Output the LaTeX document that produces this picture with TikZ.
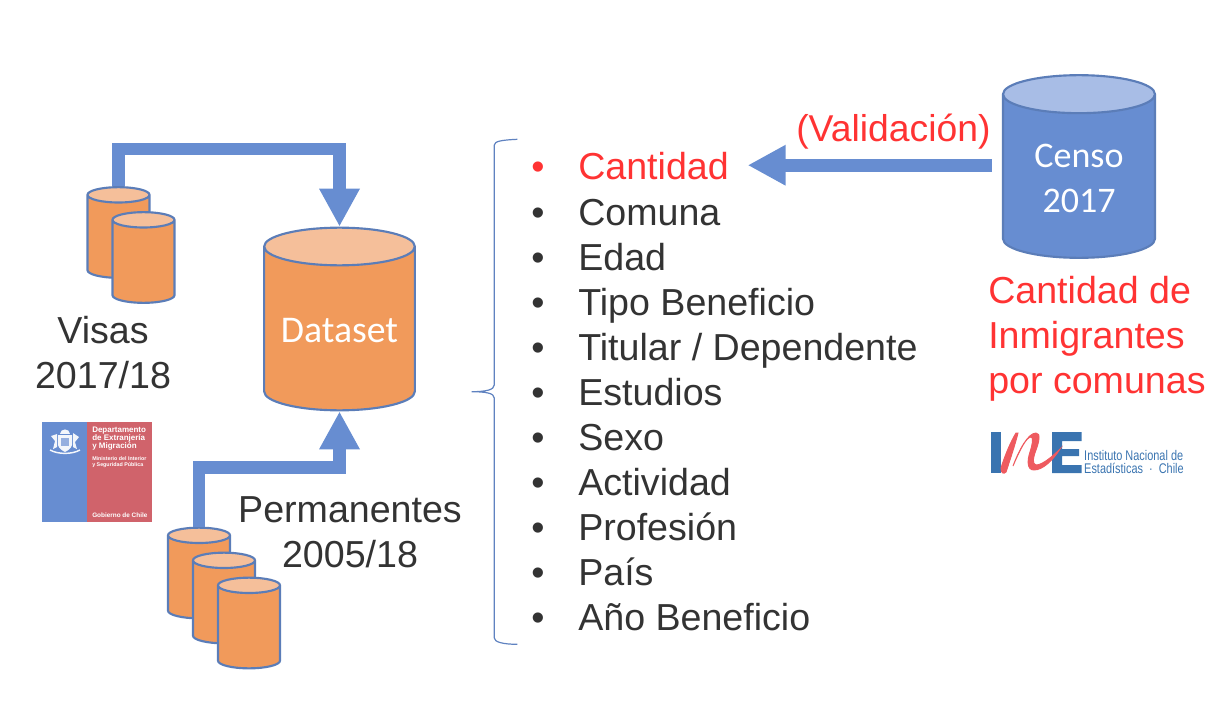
\documentclass[tikz,border=0pt]{standalone}
\usepackage{fontspec}
\setmainfont{Liberation Sans}
\newfontfamily\calibrina{Carlito}
\usetikzlibrary{shapes.geometric,arrows.meta}
\definecolor{naranjo}{HTML}{F19A5B}
\definecolor{naranjoclaro}{HTML}{F5BF9A}
\definecolor{azul}{HTML}{678DD1}
\definecolor{azulclaro}{HTML}{A8BDE6}
\definecolor{borde}{HTML}{5B7DB8}
\definecolor{texto}{HTML}{333333}
\definecolor{rojo}{HTML}{FF3333}
\definecolor{azulin}{HTML}{3A74B0}
\definecolor{rojoine}{HTML}{EE5A5F}
\definecolor{rojologo}{HTML}{D0636B}
\tikzset{
	barril/.style={cylinder, shape border rotate=90, shape aspect=0.25, anchor=shape center, draw=borde, line width=1.6pt, inner sep=0pt, cylinder uses custom fill},
	naranja/.style={cylinder body fill=naranjo, cylinder end fill=naranjoclaro},
	chico/.style={barril, naranja, text width=46pt, minimum width=46.5pt, minimum height=68pt},
	flecha/.style={draw=azul, line width=9.5pt, -{Triangle[width=28.5pt,length=28.5pt]}},
	item/.style={anchor=base west, font=\fontsize{28.2}{34}\selectfont, text=texto, inner sep=0pt},
	titulo/.style={font=\fontsize{28.2}{33.75}\selectfont, text=texto, align=center, inner sep=0pt}
}
\begin{document}
\begin{tikzpicture}[x=0.75pt,y=-0.75pt]
\useasboundingbox (0,0) rectangle (1227,706);
\node[chico] (visa1) at (118.5,232.5) {};
\node[chico] (visa2) at (143.5,257.5) {};
\node[chico] (perm1) at (199,573) {};
\node[chico] (perm2) at (224,598) {};
\node[chico] (perm3) at (249,623) {};
\node[barril, naranja, text width=113pt, minimum width=113pt, minimum height=137pt, text=white, align=center, font=\calibrina\fontsize{28.3}{33}\selectfont] (dataset) at (339.5,319) {\rule{0pt}{21pt}Dataset};
\node[barril, cylinder body fill=azul, cylinder end fill=azulclaro, text width=114pt, minimum width=114pt, minimum height=137pt, text=white, align=center, font=\calibrina\fontsize{27}{33.75}\selectfont] (censo) at (1079,166.5) {\rule{0pt}{20pt}Censo\\2017};
\draw[flecha] (visa1.north) -- ++(0,-37) -| (dataset.north);
\draw[flecha] (perm1.north) -- ++(0,-59) -| (dataset.south);
% lista de variables
\node[item, text=rojo] (cantidad) at (578,180) {Cantidad};
\node[item, text=rojo] (bala0) at (531,180) {•};
\foreach \n/\txt in {1/Comuna,2/Edad,3/Tipo Beneficio,4/{Titular / Dependente},5/Estudios,6/Sexo,7/Actividad,8/Profesión,9/País,10/Año Beneficio} {
	\node[item] (var\n) at (578,180+45*\n) {\txt};
	\node[item] (bala\n) at (531,180+45*\n) {•};
}
\coordinate (llegada) at ([xshift=14pt,yshift=1pt]cantidad.east);
\coordinate (salida) at ([xshift=-7.5pt]censo.west |- llegada);
\draw[flecha] (salida) -- (llegada);
\draw[borde!70!azul, line width=0.9pt] (517.3,139.3) .. controls (503,140) and (494.3,141) .. (494.3,145) -- (494.3,385) .. controls (494.3,390) and (485,391.7) .. (471.7,391.7) .. controls (485,391.7) and (494.3,393) .. (494.3,398) -- (494.3,638) .. controls (494.3,642) and (503,644.3) .. (517.3,644.3);
\node[titulo] (visas) at (103,353) {Visas\\2017/18};
\node[titulo] (permanentes) at (350,532) {Permanentes\\2005/18};
\node[item, font=\fontsize{28}{34}\selectfont, text=rojo] (validacion) at (796,142) {(Validación)};
\node[titulo, text=rojo, align=left, anchor=north west] (leyenda) at (988,276) {Cantidad de\\Inmigrantes\\por comunas};
% logo extranjeria
\fill[azul] (42,422) rectangle (87,522);
\fill[rojologo] (87,422) rectangle (152,522);
\fill[white!92!azul] (58,435) -- (72,435) -- (72,445) .. controls (71,449) and (67,451) .. (65,452) .. controls (63,451) and (59,449) .. (58,445) -- cycle;
\fill[azul!70!white] (61,438) rectangle (69,446);
\fill[white!92!azul] (60,434) .. controls (60,428) and (70,428) .. (70,434) -- cycle;
\fill[white!92!azul] (51,436) -- (57,434) -- (57,447) -- (53,449) -- (55,441) -- cycle;
\fill[white!92!azul] (79,437) -- (73,433) -- (73,447) -- (77,449) -- (75,442) -- cycle;
\draw[white!92!azul, line width=1.1pt] (50,450) .. controls (58,454.5) and (72,454.5) .. (80,450);
\node[anchor=north west, inner sep=0pt, text=white, font=\bfseries\fontsize{6}{6}\selectfont, align=left] (depto) at (92,427) {Departamento\\de Extranjería\\y Migración};
\node[anchor=north west, inner sep=0pt, text=white, font=\bfseries\fontsize{4}{5}\selectfont, align=left] (ministerio) at (92,456) {Ministerio del Interior\\y Seguridad Pública};
\node[anchor=base west, inner sep=0pt, text=white, font=\bfseries\fontsize{4.8}{6}\selectfont] (gobierno) at (92,517) {Gobierno de Chile};
% logo ine
\fill[azulin] (991,432) rectangle (1001,473);
\fill[azulin] (1052,432) rectangle (1081.5,441) (1052,449) rectangle (1079,456) (1052,465) rectangle (1081.5,473) (1052,432) rectangle (1062,473);
\filldraw[rojoine, line width=0.7pt] (1001,468) .. controls (1005,455) and (1011,441) .. (1016,433) -- (1018,433) .. controls (1015,445) and (1010,460) .. (1006,472) .. controls (1004,474) and (1001,474) .. (1001,468) -- cycle;
\filldraw[rojoine, line width=0.7pt] (1013,466) .. controls (1019,450) and (1028,433) .. (1036,433) .. controls (1041,433) and (1039,442) .. (1036,450) .. controls (1033,458) and (1032,464) .. (1036,465) .. controls (1042,465) and (1052,457) .. (1060,449) .. controls (1053,460) and (1043,470) .. (1034,470) .. controls (1027,470) and (1027,461) .. (1030,452) .. controls (1032,446) and (1034,437) .. (1031,437) .. controls (1026,437) and (1019,452) .. (1013,466) -- cycle;
\node[anchor=base west, inner sep=0pt, text=azulin, xscale=0.78, transform shape, font=\fontsize{10.5}{12}\selectfont] (ine1) at (1084,460) {Instituto Nacional de};
\node[anchor=base west, inner sep=0pt, text=azulin, xscale=0.78, transform shape, font=\fontsize{10.5}{12}\selectfont] (ine2) at (1084,473) {Estadísticas\ \ ·\ \ Chile};
\end{tikzpicture}
\end{document}
